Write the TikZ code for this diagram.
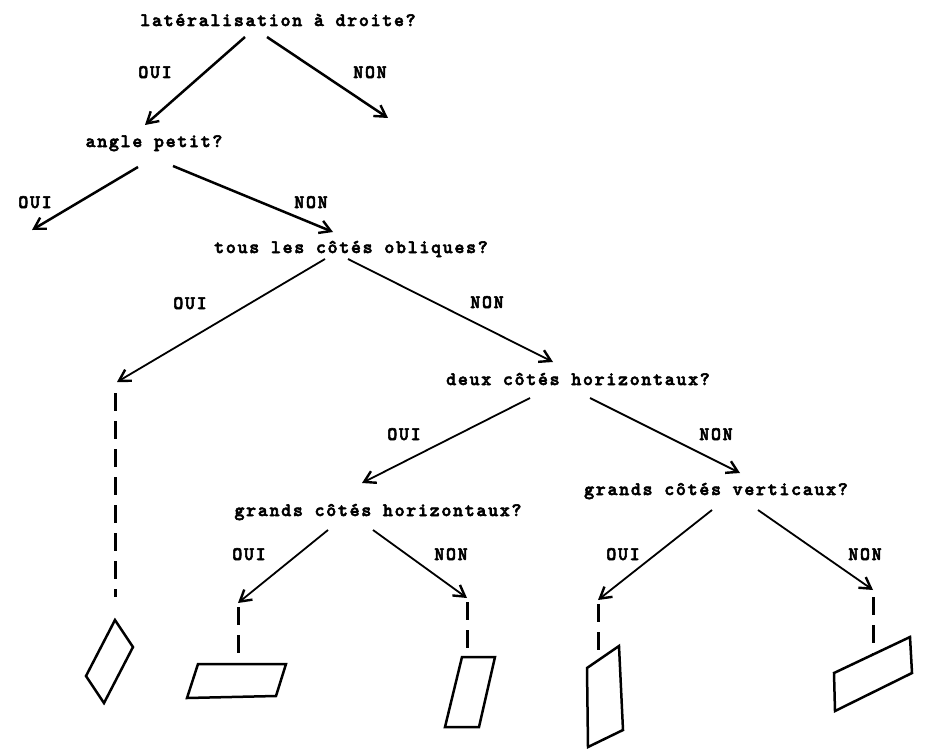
\documentclass[tikz,border=0pt]{standalone}
\usepackage{fontspec}
\newfontfamily\tw{lmmonolt10-bold.otf}[LetterSpace=9,FakeBold=3]
\usetikzlibrary{arrows.meta}
\begin{document}
\begin{tikzpicture}[x=1pt,y=-1pt,
  txt/.style={inner sep=0pt,anchor=base,font=\tw\fontsize{19}{21}\selectfont},
  lab/.style={txt},
  arr/.style={line width=1.8pt,-{Straight Barb[length=11pt,width=13pt,line width=2.4pt]}},
  arrthick/.style={arr,line width=2.5pt},
  dsh/.style={line width=3pt,dash pattern=on 18pt off 10pt},
  fig/.style={line width=2.5pt,line join=miter}]
\useasboundingbox (0,0) rectangle (939,749);
% questions
\node[txt] (q1) at (278,26) {latéralisation à droite?};
\node[txt] (q2) at (154,147) {angle petit?};
\node[txt] (q3) at (351,253) {tous les côtés obliques?};
\node[txt] (q4) at (578,385) {deux côtés horizontaux?};
\node[txt] (q5) at (378,516) {grands côtés horizontaux?};
\node[txt] (q6) at (716,495) {grands côtés verticaux?};
% labels
\node[lab] (l1) at (155,78) {OUI};
\node[lab] (l2) at (370,78) {NON};
\node[lab] (l3) at (35,208) {OUI};
\node[lab] (l4) at (311,208) {NON};
\node[lab] (l5) at (190,309) {OUI};
\node[lab] (l6) at (487,308) {NON};
\node[lab] (l7) at (404,440) {OUI};
\node[lab] (l8) at (716,440) {NON};
\node[lab] (l9) at (249,560) {OUI};
\node[lab] (l10) at (451,560) {NON};
\node[lab] (l11) at (623,560) {OUI};
\node[lab] (l12) at (865,560) {NON};
% connector end points
\coordinate (s1) at (245,37); \coordinate (t1) at (145,125);
\coordinate (s2) at (267,37); \coordinate (t2) at (388,118);
\coordinate (s3) at (138,167); \coordinate (t3) at (32,230);
\coordinate (s4) at (173,166); \coordinate (t4) at (333,232);
\coordinate (s5) at (325,259); \coordinate (t5) at (117,382);
\coordinate (s6) at (348,259); \coordinate (t6) at (553,362);
\coordinate (s7) at (530,398); \coordinate (t7) at (362,483);
\coordinate (s8) at (590,398); \coordinate (t8) at (740,473);
\coordinate (s9) at (328,530); \coordinate (t9) at (238,603);
\coordinate (s10) at (373,530); \coordinate (t10) at (467,598);
\coordinate (s11) at (712,510); \coordinate (t11) at (598,600);
\coordinate (s12) at (758,510); \coordinate (t12) at (873,590);
% arrows
\draw[arrthick] (s1) -- (t1);
\draw[arrthick] (s2) -- (t2);
\draw[arrthick] (s3) -- (t3);
\draw[arrthick] (s4) -- (t4);
\draw[arr] (s5) -- (t5);
\draw[arr] (s6) -- (t6);
\draw[arr] (s7) -- (t7);
\draw[arr] (s8) -- (t8);
\draw[arr] (s9) -- (t9);
\draw[arr] (s10) -- (t10);
\draw[arr] (s11) -- (t11);
\draw[arr] (s12) -- (t12);
% dashed lines
\coordinate (d1a) at (115,393); \coordinate (d1b) at (115,597);
\coordinate (d2a) at (238,607); \coordinate (d2b) at (238,657);
\coordinate (d3a) at (467,602); \coordinate (d3b) at (467,650);
\coordinate (d4a) at (598,604); \coordinate (d4b) at (598,652);
\coordinate (d5a) at (873,597); \coordinate (d5b) at (873,654);
\draw[dsh] (d1a) -- (d1b);
\draw[dsh] (d2a) -- (d2b);
\draw[dsh] (d3a) -- (d3b);
\draw[dsh] (d4a) -- (d4b);
\draw[dsh] (d5a) -- (d5b);
% figures
\draw[fig] (115,620) -- (133,647) -- (104,703) -- (86,676) -- cycle;
\draw[fig] (198,664) -- (286,664) -- (276,696) -- (187,698) -- cycle;
\draw[fig] (462,657) -- (495,657) -- (479,727) -- (445,727) -- cycle;
\draw[fig] (587,668) -- (619,646) -- (623,730) -- (588,747) -- cycle;
\draw[fig] (834,673) -- (910,637) -- (912,673) -- (835,711) -- cycle;
\end{tikzpicture}
\end{document}
